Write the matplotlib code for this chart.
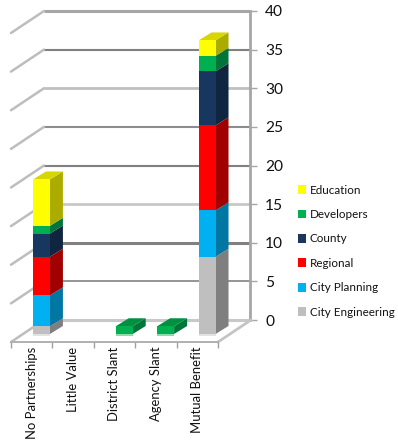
import matplotlib
matplotlib.use("Agg")
import matplotlib.pyplot as plt
from matplotlib.patches import Patch
import numpy as np

plt.rcParams['font.family'] = ['Lato', 'DejaVu Sans']

categories = ["No Partnerships", "Little Value", "District Slant", "Agency Slant", "Mutual Benefit"]
series_names = ["City Engineering", "City Planning", "Regional", "County", "Developers", "Education"]
city_engineering = [1, 0, 0, 0, 10]
city_planning = [4, 0, 0, 0, 6]
regional = [5, 0, 0, 0, 11]
county = [3, 0, 0, 0, 7]
developers = [1, 0, 1, 1, 2]
education = [6, 0, 0, 0, 2]
value_ticks = [0, 5, 10, 15, 20, 25, 30, 35, 40]

front_colors = ["#BFBFBF", "#00B0F0", "#FF0000", "#17375E", "#00B050", "#FFFF00"]
side_colors = ["#7F7F7F", "#0076A3", "#A00000", "#0F2540", "#00753A", "#ABAB00"]
top_colors = ["#A6A6A6", "#0090C8", "#CC0000", "#14304F", "#009040", "#D6D600"]
grid_colors = ["#C8C8C8", "#8C8C8C", "#808080", "#C8C8C8", "#808080",
               "#8C8C8C", "#C0C0C0", "#808080", "#A6A6A6"]
grid_widths = [2.2, 1.3, 2.2, 2.0, 1.5, 1.5, 2.0, 1.5, 2.2]

W, H = 398, 441
fig = plt.figure(figsize=(W / 100, H / 100), dpi=100)

def box(x0, y0, x1, y1):
    return [x0 / W, (H - y0) / H, (x1 - x0) / W, (y0 - y1) / H]

# back wall axes (carries the value axis)
back = fig.add_axes(box(44, 320, 250, 11), zorder=1)
back.set_xlim(0, 5)
back.set_ylim(0, 40)
back.patch.set_visible(False)
for s in ("top", "left", "bottom"):
    back.spines[s].set_visible(False)
back.spines["right"].set_color("#A6A6A6")
back.spines["right"].set_linewidth(2.0)
back.yaxis.tick_right()
back.set_yticks(value_ticks)
back.set_xticks([])
back.tick_params(axis="y", length=5, width=1.0, color="#A6A6A6", pad=6, labelsize=11.2, labelcolor="#111111")
for v, c, lw in zip(value_ticks, grid_colors, grid_widths):
    back.plot([0, 5], [v, v], color=c, lw=lw, solid_capstyle="butt", clip_on=False)

# front plane axes (categories and bars)
ax = fig.add_axes(box(11, 342, 218, 33), zorder=2)
ax.set_xlim(0, 5)
ax.set_ylim(0, 40)
ax.patch.set_visible(False)
for s in ("top", "left", "right"):
    ax.spines[s].set_visible(False)
ax.spines["bottom"].set_color("#B0B0B0")
ax.spines["bottom"].set_linewidth(1.4)
ax.set_yticks([])
ax.set_xticks(np.arange(6))
ax.set_xticklabels([])
ax.set_xticks(np.arange(5) + 0.5, labels=categories, minor=True)
ax.tick_params(axis="x", which="major", length=4, width=1.0, color="#A0A0A0")
ax.tick_params(axis="x", which="minor", length=0, pad=3.2, labelsize=9.4, labelcolor="#111111", labelrotation=90)
for lab in ax.get_xticklabels(minor=True):
    lab.set_va("top")

depth_x = 33 / 41.4
depth_y = 22 / 7.72

# side wall and floor edges
for v, c in zip(value_ticks, grid_colors):
    ax.plot([0, depth_x], [v, v + depth_y], color="#BDBDBD", lw=1.8, solid_capstyle="round", clip_on=False, zorder=1)
ax.plot([5, 5 + depth_x], [0, depth_y], color="#C4C4C4", lw=2.0, clip_on=False, zorder=1)

# bars
bar_width = 0.41
bar_shift = 0.235
bar_base = 8 / 7.72
side_dx = 13 / 41.4
side_dy = 8 / 7.72
stack = [city_engineering, city_planning, regional, county, developers, education]

positions = np.arange(5) + 0.5 + bar_shift
bottom = np.zeros(5)
for vals, fc, sc, tc in zip(stack, front_colors, side_colors, top_colors):
    vals = np.array(vals, dtype=float)
    for i in np.nonzero(vals)[0]:
        xr = positions[i] + bar_width / 2
        y0 = bar_base + bottom[i]
        y1 = y0 + vals[i]
        ax.fill([xr, xr + side_dx, xr + side_dx, xr],
                [y0, y0 + side_dy, y1 + side_dy, y1], color=sc, lw=0, zorder=3, clip_on=False)
    ax.bar(positions, vals, width=bar_width, bottom=bar_base + bottom, color=fc, lw=0, zorder=4, clip_on=False)
    bottom = bottom + vals

# top faces and faint reflection under each stack
for i, total in enumerate(bottom):
    if total == 0:
        continue
    xl = positions[i] - bar_width / 2
    xr = positions[i] + bar_width / 2
    yt = bar_base + total
    top_idx = max(j for j in range(6) if stack[j][i] > 0)
    low_idx = min(j for j in range(6) if stack[j][i] > 0)
    ax.fill([xl, xr, xr + side_dx, xl + side_dx],
            [yt, yt, yt + side_dy, yt + side_dy], color=top_colors[top_idx], lw=0, zorder=3, clip_on=False)
    ax.bar(positions[i], 0.3, width=bar_width, bottom=bar_base - 0.3, color=front_colors[low_idx],
           alpha=0.45, lw=0, zorder=3, clip_on=False)

# legend
handles = [Patch(facecolor=c, edgecolor="none", label=n) for n, c in zip(series_names, front_colors)][::-1]
fig.legend(handles=handles, loc="upper left", bbox_to_anchor=(293 / W, (H - 180) / H),
           frameon=False, fontsize=8.4, handlelength=0.72, handleheight=0.8, handletextpad=0.3,
           labelspacing=1.15, borderpad=0.4, borderaxespad=0, labelcolor="#111111")

fig.savefig("out.png", dpi=100)
